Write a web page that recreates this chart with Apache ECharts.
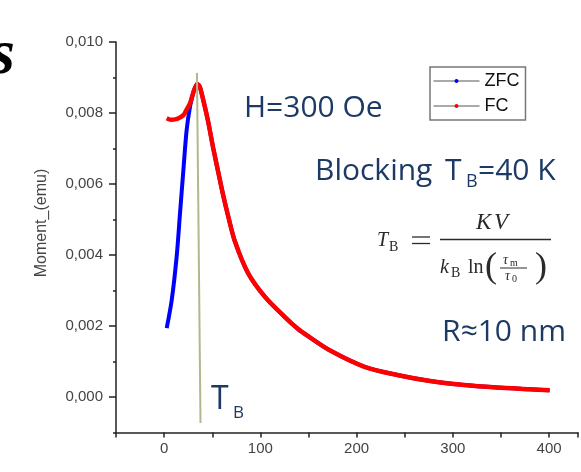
<!DOCTYPE html>
<html>
<head>
<meta charset="utf-8">
<title>ZFC / FC</title>
<script src="https://cdn.jsdelivr.net/npm/echarts@6/dist/echarts.min.js"></script>
<style>
  html, body { margin: 0; padding: 0; background: #fff; }
  #main { width: 581px; height: 472px; }
</style>
</head>
<body>
<div id="main"></div>
<script>
// values (T in K, moment in emu)
var zfcRiseTemp   = [2.7, 7.9, 13.0, 16.5, 20.0, 23.4, 26.9, 30.5];
var zfcRiseMoment = [0.00194, 0.00273, 0.00395, 0.00517, 0.00639, 0.00752, 0.00818, 0.00859];
var fcLowTemp     = [2.7, 7.0, 11.4, 15.0, 20.0, 23.0, 26.9, 30.5];
var fcLowMoment   = [0.00785, 0.00781, 0.00782, 0.00785, 0.00794, 0.00808, 0.00827, 0.00859];
// shared part after the peak
var tailTemp   = [34.4, 37.0, 40.6, 45.8, 51.0, 56.2, 61.3, 66.5, 73.7, 87.2, 104.8, 125.5, 138.9, 149.2,
                  173, 208.2, 242.3, 276.4, 311.6, 345.7, 379.8, 400.5];
var tailMoment = [0.00882, 0.00874, 0.00837, 0.00775, 0.00701, 0.00634, 0.00569, 0.00510, 0.00437, 0.00349,
                  0.00282, 0.00225, 0.00192, 0.00172, 0.00130, 0.00085, 0.00062, 0.00045, 0.00034, 0.00027,
                  0.00022, 0.00019];
// T_B marker line (two ends)
var tbTemp   = [34.1, 37.8];
var tbMoment = [0.00913, -0.00073];
var yMajorTicks = [0, 0.002, 0.004, 0.006, 0.008, 0.010];

function pairs(xs, ys) {
    var out = [];
    for (var i = 0; i < xs.length; i++) out.push([xs[i], ys[i]]);
    return out;
}

var zfcData = pairs(zfcRiseTemp, zfcRiseMoment).concat(pairs(tailTemp, tailMoment));
var fcData  = pairs(fcLowTemp, fcLowMoment).concat(pairs(tailTemp, tailMoment));

var navy = '#1c3a63';
var ink = '#2a2a2a';
var serif = '"Liberation Serif", "DejaVu Serif", serif';
var sans = '"Open Sans", "Noto Sans", sans-serif';

function t(x, y, text, size, opts) {
    opts = opts || {};
    return {
        type: 'text', x: x, y: y, silent: true,
        style: {
            text: text, fill: opts.fill || navy, fontSize: size,
            fontFamily: opts.family || sans, fontStyle: opts.italic ? 'italic' : 'normal',
            fontWeight: opts.bold ? 'bold' : 'normal',
            align: opts.align || 'left', verticalAlign: 'middle'
        }
    };
}
function rule(x1, x2, y, w) {
    return { type: 'line', silent: true, shape: { x1: x1, y1: y, x2: x2, y2: y },
             style: { stroke: ink, lineWidth: w } };
}

var chart = echarts.init(document.getElementById('main'));

chart.setOption({
    backgroundColor: '#fff',
    animation: false,
    grid: { left: 116, right: 0, top: 42, bottom: 39.5 },
    legend: {
        data: ['ZFC', 'FC'],
        orient: 'vertical',
        left: 430, top: 67,
        padding: [4, 6, 4, 3],
        itemWidth: 46, itemHeight: 5, itemGap: 5,
        backgroundColor: '#fff',
        borderColor: '#777', borderWidth: 1.5,
        lineStyle: { color: '#555', width: 1 },
        textStyle: { fontFamily: '"Liberation Sans", Arial, sans-serif', fontSize: 18, color: '#111', lineHeight: 20 }
    },
    xAxis: {
        type: 'value', min: -50, max: 430, interval: 50,
        axisLine: { onZero: false, lineStyle: { color: '#222', width: 1.5 } },
        axisTick: { length: 5, lineStyle: { color: '#222', width: 1.5 } },
        axisLabel: {
            margin: 9, color: '#444', fontSize: 15,
            fontFamily: '"Liberation Sans", Arial, sans-serif',
            formatter: function (v) { return (Math.round(v) % 100 === 0 && v >= 0 && v <= 400) ? String(Math.round(v)) : ''; }
        },
        splitLine: { show: false }
    },
    yAxis: [{
        type: 'value', min: -0.001, max: 0.010, interval: 0.001,
        axisLine: { onZero: false, lineStyle: { color: '#222', width: 1.5 } },
        axisTick: { length: 3, lineStyle: { color: '#222', width: 1.5 } },
        axisLabel: {
            margin: 13, color: '#444', fontSize: 15,
            fontFamily: '"Liberation Sans", Arial, sans-serif',
            formatter: function (v) {
                var k = Math.round(v * 1000);
                if (k % 2 !== 0 || k < 0) return '';
                return (k / 1000).toFixed(3).replace('.', ',');
            }
        },
        splitLine: { show: false }
    }, {
        type: 'value', min: -0.001, max: 0.010, position: 'left',
        axisLine: { show: false, onZero: false },
        axisTick: { show: true, length: 7, customValues: yMajorTicks, lineStyle: { color: '#222', width: 1.5 } },
        axisLabel: { show: false },
        splitLine: { show: false }
    }],
    series: [{
        name: 'ZFC', type: 'line', data: zfcData,
        symbol: 'circle', showSymbol: false, smooth: 0.3,
        itemStyle: { color: '#0000ff' },
        lineStyle: { color: '#0000ff', width: 4 }
    }, {
        name: 'FC', type: 'line', data: fcData,
        symbol: 'circle', showSymbol: false, smooth: 0.3,
        itemStyle: { color: '#ff0000' },
        lineStyle: { color: '#ff0000', width: 4.5 }
    }, {
        name: 'TB', type: 'line', data: pairs(tbTemp, tbMoment),
        symbol: 'none', silent: true,
        lineStyle: { color: '#b6b68e', width: 2 }
    }],
    graphic: [
        // cut-off letter at the top left
        t(-10, 56, 's', 64, { family: serif, italic: true, bold: true, fill: '#000' }),
        // y axis name
        {
            type: 'text', x: 42, y: 223, rotation: Math.PI / 2, silent: true,
            style: { text: 'Moment_(emu)', fill: '#444', fontSize: 16,
                     fontFamily: '"Liberation Sans", Arial, sans-serif',
                     align: 'center', verticalAlign: 'middle' }
        },
        t(244, 108, 'H=300 Oe', 30),
        t(315, 171, 'Blocking', 30),
        t(445, 171, 'T', 30),
        t(466, 182, 'B', 18),
        t(478, 171, '=40 K', 30),
        t(442, 332, 'R\u224810 nm', 30),
        t(211, 400, 'T', 32),
        t(233, 413, 'B', 17),
        // formula T_B = KV / (k_B ln(tau_m / tau_0))
        t(377, 241, 'T', 20, { family: serif, italic: true, fill: ink }),
        t(389, 247, 'B', 14, { family: serif, fill: ink }),
        rule(412, 430, 237, 1.3),
        rule(412, 430, 243.5, 1.3),
        rule(440, 551, 239.5, 1.3),
        t(476, 223, 'K', 23, { family: serif, italic: true, fill: ink }),
        t(494, 223, 'V', 23, { family: serif, italic: true, fill: ink }),
        t(440, 268, 'k', 20, { family: serif, italic: true, fill: ink }),
        t(451, 273, 'B', 14, { family: serif, fill: ink }),
        t(468, 268, 'ln', 20, { family: serif, fill: ink }),
        t(485, 268, '(', 36, { family: serif, fill: ink }),
        t(503, 260, '\u03c4', 14, { family: serif, italic: true, fill: ink }),
        t(510, 263, 'm', 10, { family: serif, fill: ink }),
        rule(500, 527, 268, 1),
        t(505, 276, '\u03c4', 14, { family: serif, italic: true, fill: ink }),
        t(512, 279, '0', 10, { family: serif, fill: ink }),
        t(535, 268, ')', 36, { family: serif, fill: ink })
    ]
});
</script>
</body>
</html>
